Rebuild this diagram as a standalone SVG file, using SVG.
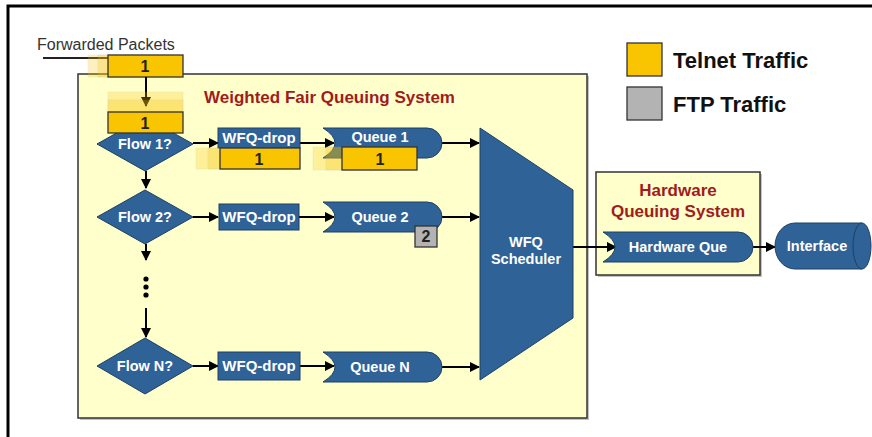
<svg xmlns="http://www.w3.org/2000/svg" width="872" height="437" viewBox="0 0 872 437">
<defs>
<marker id="ah" markerWidth="10" markerHeight="10" refX="9" refY="5" orient="auto" markerUnits="userSpaceOnUse"><path d="M0,0 L10,5 L0,10 Z" fill="#000"/></marker>
<style>
.sys{fill:#FFFFCC;stroke:#333;stroke-width:1.5}
.shd{fill:#888;opacity:0.5}
.blue{fill:#2F6296;stroke:#1E3F66;stroke-width:1}
.pkt{fill:#F9C400;stroke:#333;stroke-width:1.3}
.ghost{fill:#F9C400;opacity:0.25;stroke:#999;stroke-width:0.5}
.ftp{fill:#B3B3B3;stroke:#333;stroke-width:1.3}
.wt{font-family:"Liberation Sans",Arial,sans-serif;font-weight:bold;font-size:14.5px;fill:#fff;text-anchor:middle}
.pt{font-family:"Liberation Sans",Arial,sans-serif;font-weight:bold;font-size:16px;fill:#222;text-anchor:middle}
.ttl{font-family:"Liberation Sans",Arial,sans-serif;font-weight:bold;font-size:17px;fill:#A01C1C}
.lg{font-family:"Liberation Sans",Arial,sans-serif;font-weight:bold;font-size:22px;fill:#111}
.ln{stroke:#000;stroke-width:2;fill:none}
</style>
</defs>
<rect x="0" y="0" width="872" height="437" fill="#fff"/>
<path d="M8,437 L8,6 L872,6" fill="none" stroke="#000" stroke-width="3"/>

<g id="wfq-system">
<rect class="shd" x="80" y="76" width="509" height="344"/>
<rect class="sys" x="78" y="74" width="509" height="344"/>
<text class="ttl" x="204" y="103">Weighted Fair Queuing System</text>
</g>

<g id="hw-system">
<rect class="shd" x="598" y="174" width="164" height="103"/>
<rect class="sys" x="596" y="172" width="164" height="103"/>
<text class="ttl" x="678" y="196" text-anchor="middle">Hardware</text>
<text class="ttl" x="678" y="217" text-anchor="middle">Queuing System</text>
</g>

<g id="legend">
<rect class="pkt" x="627" y="43" width="35" height="33"/>
<text class="lg" x="673" y="68">Telnet Traffic</text>
<rect class="ftp" x="627" y="87" width="35" height="33"/>
<text class="lg" x="673" y="112">FTP Traffic</text>
</g>

<g id="forwarded">
<text x="37" y="50" font-family="Liberation Sans,Arial,sans-serif" font-size="16" fill="#333">Forwarded Packets</text>
<line x1="43" y1="58" x2="108" y2="58" stroke="#222" stroke-width="2"/>
<rect class="ghost" x="88" y="55" width="75" height="22"/>
<rect class="ghost" x="98" y="55" width="75" height="22"/>
<rect class="pkt" x="108" y="55" width="75" height="22"/>
<text class="pt" x="145" y="72">1</text>
</g>

<g id="connectors">
<line class="ln" x1="146" y1="77" x2="146" y2="106" marker-end="url(#ah)"/>
<line class="ln" x1="146" y1="171" x2="146" y2="188" marker-end="url(#ah)"/>
<line class="ln" x1="146" y1="244" x2="146" y2="260" marker-end="url(#ah)"/>
<line class="ln" x1="146" y1="308" x2="146" y2="337" marker-end="url(#ah)"/>
<line class="ln" x1="193" y1="143" x2="218" y2="143" marker-end="url(#ah)"/>
<line class="ln" x1="193" y1="217" x2="218" y2="217" marker-end="url(#ah)"/>
<line class="ln" x1="193" y1="366" x2="218" y2="366" marker-end="url(#ah)"/>
<line class="ln" x1="300" y1="143" x2="334" y2="143" marker-end="url(#ah)"/>
<line class="ln" x1="299" y1="217" x2="334" y2="217" marker-end="url(#ah)"/>
<line class="ln" x1="300" y1="366" x2="334" y2="366" marker-end="url(#ah)"/>
<line class="ln" x1="442" y1="143" x2="479" y2="143" marker-end="url(#ah)"/>
<line class="ln" x1="442" y1="217" x2="479" y2="217" marker-end="url(#ah)"/>
<line class="ln" x1="442" y1="367" x2="479" y2="367" marker-end="url(#ah)"/>
<line class="ln" x1="573" y1="247" x2="616" y2="247" marker-end="url(#ah)"/>
<line class="ln" x1="753" y1="247" x2="775" y2="247" marker-end="url(#ah)"/>
<circle cx="146" cy="279" r="2.6" fill="#000"/>
<circle cx="146" cy="287" r="2.6" fill="#000"/>
<circle cx="146" cy="295" r="2.6" fill="#000"/>
</g>

<g id="flow1">
<polygon class="blue" points="145,117 193,144 145,171 97,144"/>
<text class="wt" x="145" y="149">Flow 1?</text>
</g>
<g id="packet-in">
<rect class="ghost" x="108" y="92" width="75" height="20"/>
<rect class="ghost" x="108" y="100" width="75" height="12"/>
<rect class="pkt" x="108" y="112" width="75" height="21"/>
<text class="pt" x="145" y="129">1</text>
</g>
<g id="flow2">
<polygon class="blue" points="145,190 193,217 145,244 97,217"/>
<text class="wt" x="145" y="222">Flow 2?</text>
</g>
<g id="flowN">
<polygon class="blue" points="145,338 193,366 145,394 97,366"/>
<text class="wt" x="145" y="371">Flow N?</text>
</g>

<g id="drop1">
<rect class="blue" x="218" y="128" width="82" height="20"/>
<text class="wt" x="259" y="143" style="font-size:15px">WFQ-drop</text>
<rect class="ghost" x="196" y="148" width="80" height="21"/>
<rect class="ghost" x="208" y="148" width="80" height="21"/>
<rect class="pkt" x="220" y="148" width="80" height="21"/>
<text class="pt" x="259" y="165">1</text>
</g>
<g id="drop2">
<rect class="blue" x="219" y="204" width="80" height="26"/>
<text class="wt" x="259" y="222" style="font-size:15px">WFQ-drop</text>
</g>
<g id="dropN">
<rect class="blue" x="218" y="352" width="82" height="28"/>
<text class="wt" x="259" y="371" style="font-size:15px">WFQ-drop</text>
</g>

<g id="queue1">
<path class="blue" d="M323,128 L427,128 A15,15 0 0 1 427,158 L323,158 Q347,143 323,128 Z"/>
<text class="wt" x="380" y="142">Queue 1</text>
<rect class="ghost" x="313" y="147" width="75" height="23"/>
<rect class="ghost" x="326" y="147" width="75" height="23"/>
<rect class="pkt" x="342" y="147" width="75" height="23"/>
<text class="pt" x="380" y="165">1</text>
</g>
<g id="queue2">
<path class="blue" d="M323,202 L427,202 A15,15 0 0 1 427,232 L323,232 Q347,217 323,202 Z"/>
<text class="wt" x="380" y="222">Queue 2</text>
<rect class="ftp" x="415" y="226" width="22" height="21"/>
<text class="pt" x="426" y="242">2</text>
</g>
<g id="queueN">
<path class="blue" d="M323,352 L427,352 A15,15 0 0 1 427,382 L323,382 Q347,367 323,352 Z"/>
<text class="wt" x="380" y="372">Queue N</text>
</g>

<g id="scheduler">
<polygon class="blue" points="480,128 573,190 573,318 480,380"/>
<text class="wt" x="526" y="247">WFQ</text>
<text class="wt" x="526" y="264">Scheduler</text>
</g>

<g id="hwque">
<path class="blue" d="M603,232 L738,232 A15,15 0 0 1 738,262 L603,262 Q627,247 603,232 Z"/>
<text class="wt" x="678" y="252">Hardware Que</text>
</g>

<g id="interface">
<path class="blue" d="M795,223 L862,223 L862,269 L795,269 A20,23 0 0 1 795,223 Z"/>
<ellipse class="blue" cx="862" cy="246" rx="9" ry="23"/>
<text class="wt" x="817" y="251">Interface</text>
</g>
</svg>
